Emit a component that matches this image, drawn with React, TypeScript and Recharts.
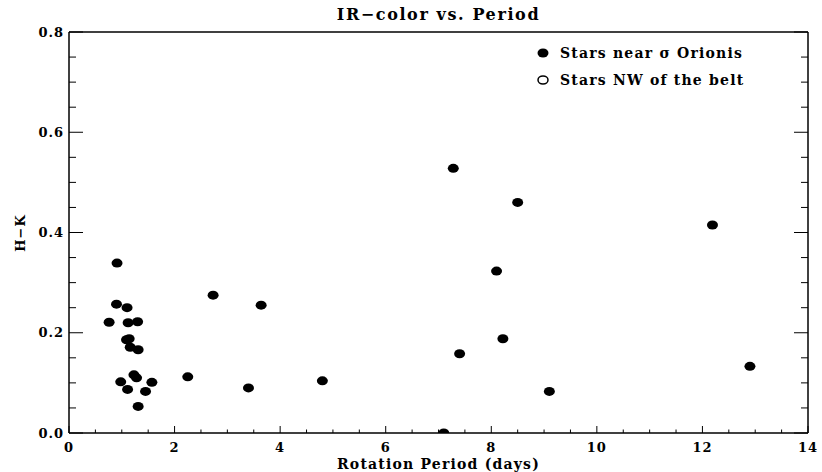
import React from "react";
import {
  ScatterChart,
  Scatter,
  XAxis,
  YAxis,
  Legend,
} from "recharts";

// rotation period (days) and H-K colour
const sigmaOriPeriod = [
  0.9, 1.1, 0.76, 1.12, 1.3, 1.09, 1.14, 1.16, 1.31, 1.23, 1.28, 0.98, 1.57,
  1.11, 1.45, 1.31, 0.91, 2.73, 3.64, 2.25, 3.4, 4.8, 7.1, 7.28, 7.4, 8.1,
  8.22, 8.5, 9.1, 12.19, 12.9,
];
const sigmaOriHK = [
  0.257, 0.25, 0.221, 0.22, 0.222, 0.186, 0.188, 0.171, 0.166, 0.116, 0.11,
  0.102, 0.101, 0.087, 0.083, 0.053, 0.339, 0.275, 0.255, 0.112, 0.09, 0.104,
  0.0, 0.528, 0.158, 0.323, 0.188, 0.46, 0.083, 0.415, 0.133,
];
// no stars of this group appear in the plot
const nwPeriod: number[] = [];
const nwHK: number[] = [];

const seriesNames = ["Stars near \u03c3 Orionis", "Stars NW of the belt"];

const xTicks = [
  0, 0.5, 1, 1.5, 2, 2.5, 3, 3.5, 4, 4.5, 5, 5.5, 6, 6.5, 7, 7.5, 8, 8.5, 9,
  9.5, 10, 10.5, 11, 11.5, 12, 12.5, 13, 13.5, 14,
];
const yTicks = [
  0, 0.05, 0.1, 0.15, 0.2, 0.25, 0.3, 0.35, 0.4, 0.45, 0.5, 0.55, 0.6, 0.65,
  0.7, 0.75, 0.8,
];

const sigmaData = sigmaOriPeriod.map((p, i) => ({ period: p, hk: sigmaOriHK[i] }));
const nwData = nwPeriod.map((p, i) => ({ period: p, hk: nwHK[i] }));

const FONT = "'DejaVu Serif', serif";

const isMajor = (v: number, step: number) =>
  Math.abs(v / step - Math.round(v / step)) < 1e-6;

const BottomTick = (props: any) => {
  const { x, y, payload } = props;
  const major = isMajor(payload.value, 2);
  return (
    <g>
      <line x1={x} x2={x} y1={y} y2={y - (major ? 7 : 3.5)} stroke="#000" />
      {major && (
        <text
          x={x}
          y={y + 19}
          textAnchor="middle"
          fontFamily={FONT}
          fontWeight="bold"
          fontSize={13}
          letterSpacing={1}
          fill="#000"
        >
          {payload.value}
        </text>
      )}
    </g>
  );
};

const TopTick = (props: any) => {
  const { x, y, payload } = props;
  const major = isMajor(payload.value, 2);
  return <line x1={x} x2={x} y1={y} y2={y + (major ? 7 : 3.5)} stroke="#000" />;
};

const LeftTick = (props: any) => {
  const { x, y, payload } = props;
  const major = isMajor(payload.value, 0.2);
  return (
    <g>
      <line x1={x} x2={x + (major ? 14 : 7)} y1={y} y2={y} stroke="#000" />
      {major && (
        <text
          x={x - 5}
          y={y}
          dy="0.36em"
          textAnchor="end"
          fontFamily={FONT}
          fontWeight="bold"
          fontSize={13}
          letterSpacing={1}
          fill="#000"
        >
          {payload.value.toFixed(1)}
        </text>
      )}
    </g>
  );
};

const RightTick = (props: any) => {
  const { x, y, payload } = props;
  const major = isMajor(payload.value, 0.2);
  return <line x1={x} x2={x - (major ? 14 : 7)} y1={y} y2={y} stroke="#000" />;
};

const FilledDot = (props: any) => (
  <ellipse cx={props.cx} cy={props.cy} rx={5.5} ry={4.5} fill="#000" />
);
const OpenDot = (props: any) => (
  <ellipse cx={props.cx} cy={props.cy} rx={5} ry={4} fill="#fff" stroke="#000" strokeWidth={1.5} />
);

const LegendBox = () => (
  <div style={{ fontFamily: FONT, fontWeight: "bold", fontSize: 14, letterSpacing: 1.2 }}>
    {seriesNames.map((name, i) => (
      <div key={name} style={{ display: "flex", alignItems: "center", height: 27 }}>
        <svg width={14} height={12}>
          {i === 0 ? (
            <ellipse cx={7} cy={6} rx={5.5} ry={4.5} fill="#000" />
          ) : (
            <ellipse cx={7} cy={6} rx={5} ry={4} fill="#fff" stroke="#000" strokeWidth={1.5} />
          )}
        </svg>
        <span style={{ marginLeft: 10 }}>{name}</span>
      </div>
    ))}
  </div>
);

export default function App() {
  return (
    <div style={{ position: "absolute", left: 0, top: 0, width: 822, height: 472, background: "#fff" }}>
      <div
        style={{
          position: "absolute",
          left: 69,
          width: 739,
          top: 4,
          textAlign: "center",
          fontFamily: FONT,
          fontWeight: "bold",
          fontSize: 16,
          letterSpacing: 1.6,
          lineHeight: "22px",
        }}
      >
        IR{"\u2212"}color vs. Period
      </div>
      <div
        style={{
          position: "absolute",
          left: 20,
          top: 233,
          transform: "translate(-50%, -50%) rotate(-90deg)",
          fontFamily: FONT,
          fontWeight: "bold",
          fontSize: 13,
          letterSpacing: 1,
          whiteSpace: "nowrap",
        }}
      >
        H{"\u2212"}K
      </div>
      <ScatterChart width={822} height={472} margin={{ top: 31, right: 13, bottom: 0, left: 19 }}>
        <XAxis
          xAxisId="bottom"
          dataKey="period"
          type="number"
          domain={[0, 14]}
          ticks={xTicks}
          interval={0}
          allowDataOverflow
          height={39}
          tickSize={0}
          tickMargin={0}
          tickLine={false}
          tick={BottomTick}
          axisLine={{ stroke: "#000", strokeWidth: 1.5 }}
          label={{
            value: "Rotation Period (days)",
            position: "insideBottom",
            offset: 3,
            style: { fontFamily: FONT, fontWeight: "bold", fontSize: 14, letterSpacing: 1.2, fill: "#000" },
          }}
        />
        <XAxis
          xAxisId="top"
          orientation="top"
          type="number"
          domain={[0, 14]}
          ticks={xTicks}
          interval={0}
          allowDataOverflow
          height={1}
          tickSize={0}
          tickMargin={0}
          tickLine={false}
          tick={TopTick}
          axisLine={{ stroke: "#000", strokeWidth: 1.5 }}
        />
        <YAxis
          yAxisId="left"
          dataKey="hk"
          type="number"
          domain={[0, 0.8]}
          ticks={yTicks}
          interval={0}
          allowDataOverflow
          width={50}
          tickSize={0}
          tickMargin={0}
          tickLine={false}
          tick={LeftTick}
          axisLine={{ stroke: "#000", strokeWidth: 1.5 }}
        />
        <YAxis
          yAxisId="right"
          orientation="right"
          type="number"
          domain={[0, 0.8]}
          ticks={yTicks}
          interval={0}
          allowDataOverflow
          width={1}
          tickSize={0}
          tickMargin={0}
          tickLine={false}
          tick={RightTick}
          axisLine={{ stroke: "#000", strokeWidth: 1.5 }}
        />
        <Legend
          layout="horizontal"
          verticalAlign="middle"
          align="center"
          content={LegendBox}
          wrapperStyle={{ top: 39, left: 536, width: 270, height: 54 }}
        />
        <Scatter
          name={seriesNames[0]}
          data={sigmaData}
          xAxisId="bottom"
          yAxisId="left"
          shape={FilledDot}
          isAnimationActive={false}
        />
        <Scatter
          name={seriesNames[1]}
          data={nwData}
          xAxisId="bottom"
          yAxisId="left"
          shape={OpenDot}
          isAnimationActive={false}
        />
      </ScatterChart>
    </div>
  );
}
